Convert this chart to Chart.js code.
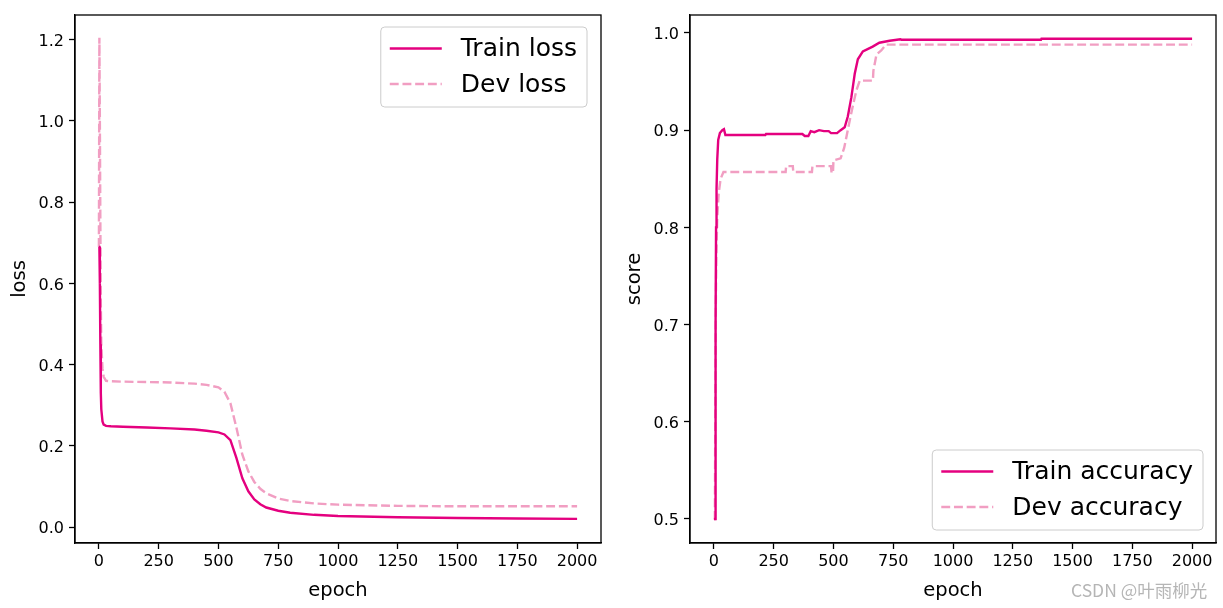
<!DOCTYPE html>
<html>
<head>
<meta charset="utf-8">
<script src="https://cdn.jsdelivr.net/npm/chart.js@4/dist/chart.umd.min.js"></script>
<style>
  html, body { margin: 0; padding: 0; background: #fff; }
  body { width: 1223px; height: 608px; position: relative; overflow: hidden; }
  .box { position: absolute; top: 0; height: 608px; }
  #wm { position: absolute; left: 1071px; top: 577px; font: 17.5px "Noto Sans CJK SC", sans-serif; color: rgba(150,150,150,0.7); white-space: nowrap; }
</style>
</head>
<body>
<div class="box" style="left:0;width:611px"><canvas id="c1"></canvas></div>
<div class="box" style="left:611px;width:612px"><canvas id="c2"></canvas></div>
<div id="wm">CSDN @叶雨柳光</div>
<script>
// ---------------- data ----------------
const lossEpochs = [0, 2, 4, 6, 8, 10, 15, 20, 30, 50, 100, 200, 300, 400, 450, 500, 525, 550, 575, 600, 625, 650, 675, 700, 750, 800, 900, 1000, 1250, 1500, 1750, 2000];
const trainLoss  = [0.69, 0.69, 0.60, 0.45, 0.33, 0.29, 0.26, 0.252, 0.249, 0.248, 0.247, 0.245, 0.243, 0.240, 0.237, 0.233, 0.228, 0.214, 0.170, 0.120, 0.088, 0.068, 0.056, 0.048, 0.040, 0.035, 0.030, 0.027, 0.024, 0.022, 0.021, 0.020];
const devLoss    = [0.69, 1.205, 1.00, 0.75, 0.55, 0.45, 0.39, 0.37, 0.36, 0.359, 0.358, 0.357, 0.356, 0.353, 0.350, 0.344, 0.333, 0.305, 0.245, 0.178, 0.137, 0.111, 0.094, 0.083, 0.070, 0.064, 0.058, 0.055, 0.052, 0.051, 0.051, 0.051];

const trainAccEpochs = [0, 5, 7, 9, 11, 14, 18, 25, 35, 42, 48, 215, 218, 370, 380, 395, 405, 420, 440, 460, 480, 490, 515, 530, 547, 560, 575, 589, 602, 623, 664, 692, 735, 780, 785, 1368, 1370, 2000];
const trainAcc       = [0.50, 0.50, 0.70, 0.80, 0.84, 0.87, 0.89, 0.897, 0.900, 0.901, 0.895, 0.895, 0.896, 0.896, 0.894, 0.894, 0.899, 0.898, 0.900, 0.899, 0.899, 0.897, 0.897, 0.900, 0.903, 0.914, 0.934, 0.958, 0.973, 0.981, 0.986, 0.990, 0.992, 0.9935, 0.993, 0.993, 0.994, 0.994];

const devAccEpochs = [0, 4, 6, 8, 10, 14, 20, 28, 40, 300, 302, 330, 332, 410, 412, 490, 492, 498, 500, 530, 545, 555, 568, 581, 596, 610, 665, 667, 680, 700, 720, 2000];
const devAcc       = [0.50, 0.50, 0.62, 0.72, 0.77, 0.81, 0.835, 0.85, 0.857, 0.857, 0.863, 0.863, 0.857, 0.857, 0.863, 0.863, 0.856, 0.856, 0.869, 0.871, 0.882, 0.894, 0.910, 0.925, 0.941, 0.951, 0.951, 0.961, 0.978, 0.982, 0.988, 0.988];

const xTicks = [0, 250, 500, 750, 1000, 1250, 1500, 1750, 2000];
const lossTicks = [0.0, 0.2, 0.4, 0.6, 0.8, 1.0, 1.2];
const scoreTicks = [0.5, 0.6, 0.7, 0.8, 0.9, 1.0];

// ---------------- styles ----------------
const TRAIN_COLOR = '#e4007f';
const DEV_COLOR = '#f19ec2';
const FONT = 'DejaVu Sans';
const tickFont = { family: FONT, size: 16 };
const titleFont = { family: FONT, size: 19.5 };

function pts(xs, ys) { return xs.map((x, i) => ({ x: x, y: ys[i] })); }

const frame = {
  id: 'frame',
  afterDatasetsDraw(chart) {
    const a = chart.chartArea, ctx = chart.ctx;
    ctx.save();
    ctx.strokeStyle = '#000';
    ctx.lineWidth = 1.3;
    ctx.strokeRect(a.left, a.top, a.right - a.left, a.bottom - a.top);
    ctx.restore();
  }
};

const legendBox = {
  id: 'legendBox',
  afterDraw(chart, args, opts) {
    const ctx = chart.ctx, a = chart.chartArea;
    ctx.save();
    ctx.font = '25px "' + FONT + '"';
    const ds = chart.data.datasets;
    let tw = 0;
    ds.forEach(d => { tw = Math.max(tw, ctx.measureText(d.label).width); });
    const w = 9 + 52 + 19 + tw + 10;
    const h = 80;
    const x = a.right - opts.right - w;
    const y = opts.corner === 'top' ? a.top + opts.offset : a.bottom - opts.offset - h;
    ctx.beginPath();
    ctx.roundRect(x, y, w, h, 4);
    ctx.fillStyle = 'rgba(255,255,255,0.8)';
    ctx.fill();
    ctx.strokeStyle = '#cccccc';
    ctx.lineWidth = 1;
    ctx.stroke();
    const rows = [y + 21.5, y + 57];
    ds.forEach((d, i) => {
      const ry = rows[i];
      ctx.beginPath();
      ctx.setLineDash(d.borderDash || []);
      ctx.strokeStyle = d.borderColor;
      ctx.lineWidth = d.borderWidth;
      ctx.moveTo(x + 9, ry);
      ctx.lineTo(x + 61, ry);
      ctx.stroke();
      ctx.setLineDash([]);
      ctx.fillStyle = '#000';
      ctx.textBaseline = 'middle';
      ctx.textAlign = 'left';
      ctx.fillText(d.label, x + 80, ry + 1);
    });
    ctx.restore();
  }
};

function makeChart(id, cfg) {
  return new Chart(document.getElementById(id), {
    type: 'line',
    data: {
      datasets: [
        { label: cfg.labels[0], data: cfg.train, borderColor: TRAIN_COLOR, borderWidth: 2.4, pointRadius: 0, tension: 0, fill: false },
        { label: cfg.labels[1], data: cfg.dev, borderColor: DEV_COLOR, borderWidth: 2.4, borderDash: [8.9, 3.8], pointRadius: 0, tension: 0, fill: false }
      ]
    },
    options: {
      responsive: true,
      maintainAspectRatio: false,
      animation: false,
      devicePixelRatio: 1,
      layout: { padding: { left: 0, top: 15, right: cfg.padRight, bottom: 0 } },
      plugins: {
        legend: { display: false },
        tooltip: { enabled: false },
        legendBox: cfg.legend
      },
      scales: {
        x: {
          type: 'linear', min: -100, max: 2100,
          afterBuildTicks: s => { s.ticks = xTicks.map(v => ({ value: v })); },
          afterFit: s => { s.height = 65; },
          ticks: { font: tickFont, color: '#000', padding: 3, maxRotation: 0, autoSkip: false, callback: v => String(v) },
          grid: { display: true, drawOnChartArea: false, drawTicks: true, tickLength: 6, tickColor: '#000', tickWidth: 1.3 },
          border: { display: true, color: '#000', width: 1.3 },
          title: { display: true, text: 'epoch', font: titleFont, color: '#000', padding: { top: 0, bottom: 5 } }
        },
        y: {
          type: 'linear', min: cfg.ymin, max: cfg.ymax,
          afterBuildTicks: s => { s.ticks = cfg.yTicks.map(v => ({ value: v })); },
          afterFit: s => { s.width = cfg.yWidth; },
          ticks: { font: tickFont, color: '#000', padding: 5, labelOffset: 2, autoSkip: false, callback: v => Number(v).toFixed(1) },
          grid: { display: true, drawOnChartArea: false, drawTicks: true, tickLength: 6, tickColor: '#000', tickWidth: 1.3 },
          border: { display: true, color: '#000', width: 1.3 },
          title: { display: true, text: cfg.yTitle, font: titleFont, color: '#000', padding: { top: cfg.yTitlePad, bottom: 0 } }
        }
      }
    },
    plugins: [frame, legendBox]
  });
}

makeChart('c1', {
  labels: ['Train loss', 'Dev loss'],
  train: pts(lossEpochs, trainLoss),
  dev: pts(lossEpochs, devLoss),
  ymin: -0.0394, ymax: 1.261, yTicks: lossTicks,
  yWidth: 75, yTitle: 'loss', yTitlePad: 8, padRight: 10,
  legend: { corner: 'top', right: 14, offset: 12 }
});

makeChart('c2', {
  labels: ['Train accuracy', 'Dev accuracy'],
  train: pts(trainAccEpochs, trainAcc),
  dev: pts(devAccEpochs, devAcc),
  ymin: 0.4753, ymax: 1.0185, yTicks: scoreTicks,
  yWidth: 79, yTitle: 'score', yTitlePad: 12, padRight: 7,
  legend: { corner: 'bottom', right: 13, offset: 13 }
});
</script>
</body>
</html>
